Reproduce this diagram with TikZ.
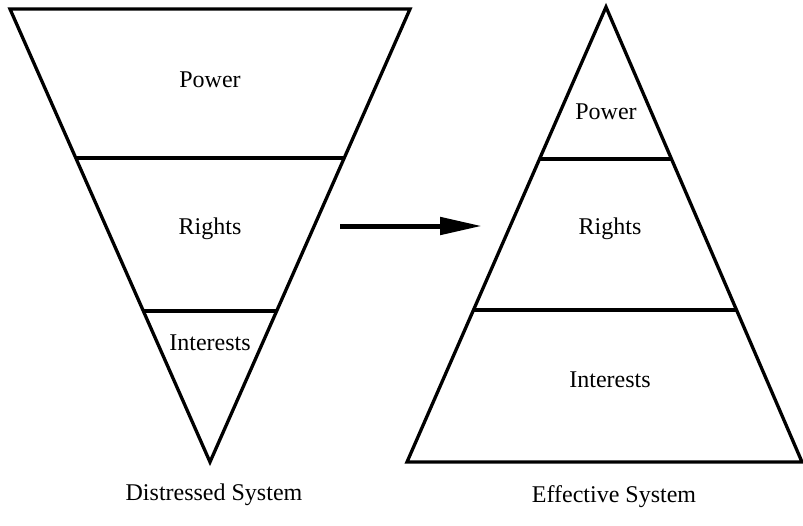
\documentclass[tikz,border=0pt]{standalone}
\usepackage{fontspec}
\setmainfont{Liberation Serif}
\usetikzlibrary{arrows.meta}

\begin{document}
\begin{tikzpicture}[x=1pt, y=-1pt, line width=3.3pt, line join=miter,
		lbl/.style={font=\fontsize{24}{28}\selectfont}]
		\useasboundingbox (0, 0) rectangle (803, 525);
		% distressed system
		\draw (10, 9) -- (410, 9) -- (210, 462) -- cycle;
		\draw (76, 158) -- (344, 158);
		\draw (143, 311) -- (277, 311);
		\node[lbl] (dpower) at (210, 80) {Power};
		\node[lbl] (drights) at (210, 229) {Rights};
		\node[lbl] (dinterests) at (210, 343) {Interests};
		\node[lbl] (dname) at (214, 495) {Distressed System};
		% effective system
		\draw (606, 7) -- (802, 462) -- (407, 462) -- cycle;
		\draw (540, 159) -- (672, 159);
		\draw (474, 310) -- (737, 310);
		\node[lbl] (epower) at (606, 112) {Power};
		\node[lbl] (erights) at (610, 229) {Rights};
		\node[lbl] (einterests) at (610, 380) {Interests};
		\node[lbl] (ename) at (614, 497) {Effective System};
		% arrow
		\coordinate (from) at (340, 226);
		\coordinate (to) at (482, 226);
		\draw [line width=5pt, -{Triangle[length=42pt, width=17pt]}] (from) -- (to);
	\end{tikzpicture}
\end{document}
